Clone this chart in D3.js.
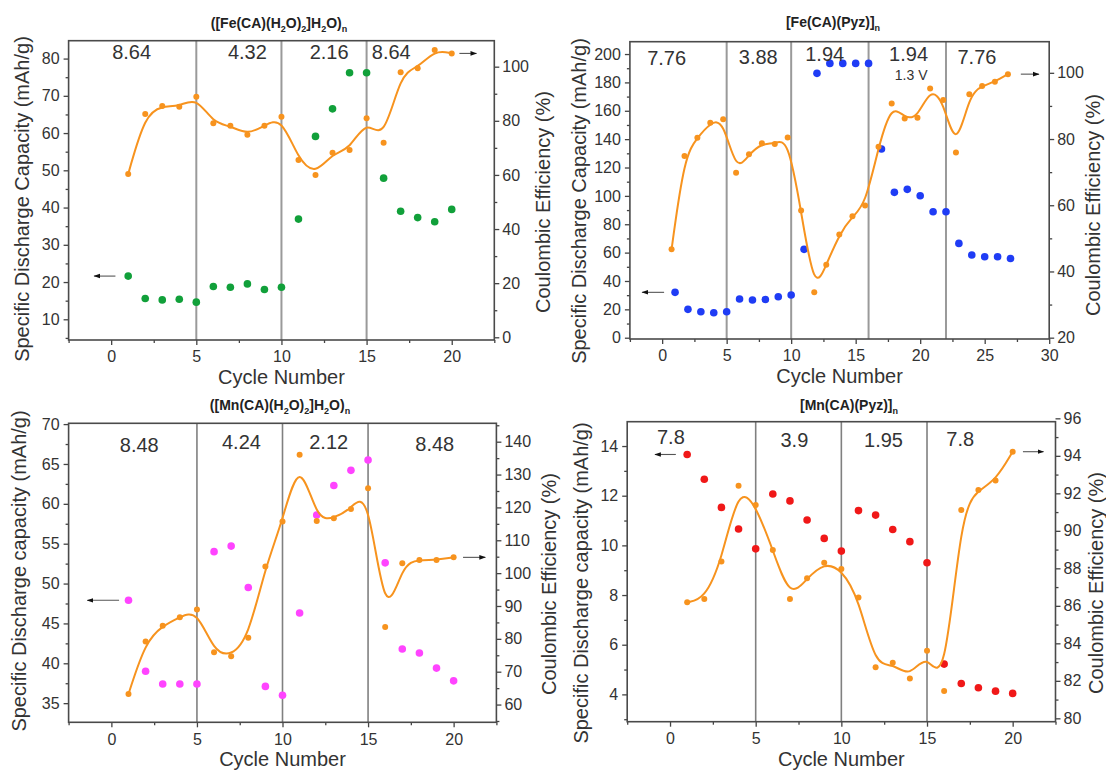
<!DOCTYPE html>
<html>
<head>
<meta charset="utf-8">
<script src="https://cdn.jsdelivr.net/npm/d3@7"></script>
<style>
  body { margin: 0; background: #fff; }
  svg { font-family: "Liberation Sans", Arial, sans-serif; }
</style>
</head>
<body>
<div id="chart"></div>
<script>
// ---------- data ----------
// ([Fe(CA)(H2O)2]H2O)n
var fe1Cycles   = [1,2,3,4,5,6,7,8,9,10,11,12,13,14,15,16,17,18,19,20];
var fe1Capacity = [21.6,15.6,15.2,15.4,14.6,18.8,18.6,19.5,18.0,18.6,36.9,59.1,66.5,76.2,76.2,47.9,39.0,37.3,36.2,39.5];
var fe1CE       = [60.3,82.5,85.5,85.2,88.9,79.1,78.2,74.8,78.2,81.5,65.5,60.0,68.2,69.2,80.9,71.9,97.9,99.4,106.2,104.9];
var fe1Rates    = ["8.64","4.32","2.16","8.64"];
var fe1Steps    = [5,10,15];
var fe1LeftTicks  = [10,20,30,40,50,60,70,80];
var fe1RightTicks = [0,20,40,60,80,100];

// [Fe(CA)(Pyz)]n
var fe2Cycles   = [1,2,3,4,5,6,7,8,9,10,11,12,13,14,15,16,17,18,19,20,21,22,23,24,25,26,27];
var fe2Capacity = [32.0,20.0,18.3,17.6,18.3,27.3,26.6,27.0,28.9,30.1,62.3,186.4,193.4,193.4,193.4,193.4,133.0,102.5,104.6,100.1,88.8,88.8,66.5,58.3,57.1,57.1,55.9];
var fe2CECycles = [0.73,1.73,2.73,3.73,4.73,5.73,6.73,7.73,8.73,9.73,10.77,11.79,12.72,13.73,14.75,15.73,16.77,17.79,18.8,19.79,20.77,21.79,22.77,23.81,24.8,25.79,26.8];
var fe2CE       = [46.7,74.9,80.4,84.9,86.0,69.8,75.4,78.7,78.5,80.5,58.4,33.7,42.0,51.2,56.7,59.9,77.7,90.7,86.2,86.4,95.3,91.8,75.9,93.5,96.0,97.3,99.6];
var fe2Rates    = ["7.76","3.88","1.94","1.94","7.76"];
var fe2Steps    = [5,10,16,22];
var fe2XTicks   = [0,5,10,15,20,25,30];
var fe2LeftTicks  = [0,20,40,60,80,100,120,140,160,180,200];
var fe2RightTicks = [20,40,60,80,100];

// ([Mn(CA)(H2O)2]H2O)n
var mn1Cycles   = [1,2,3,4,5,6,7,8,9,10,11,12,13,14,15,16,17,18,19,20];
var mn1Capacity = [47.9,39.0,37.4,37.4,37.4,54.0,54.7,49.5,37.1,36.0,46.3,58.6,62.3,64.2,65.5,52.6,41.8,41.3,39.4,37.8];
var mn1CE       = [63.2,79.2,84.0,86.6,88.9,75.9,74.7,80.3,102.0,115.7,136.0,115.9,116.7,119.5,125.8,83.6,103.0,104.0,104.0,104.8];
var mn1Rates    = ["8.48","4.24","2.12","8.48"];
var mn1Steps    = [5,10,15];
var mn1LeftTicks  = [35,40,45,50,55,60,65,70];
var mn1RightTicks = [60,70,80,90,100,110,120,130,140];

// [Mn(CA)(Pyz)]n
var mn2Cycles   = [1,2,3,4,5,6,7,8,9,10,11,12,13,14,15,16,17,18,19,20];
var mn2Capacity = [13.66,12.66,11.53,10.66,9.86,12.07,11.79,11.02,10.28,9.77,11.40,11.22,10.64,10.15,9.30,5.22,4.44,4.27,4.13,4.04];
var mn2CE       = [86.19,86.36,88.36,92.41,91.38,88.98,86.36,87.47,88.30,87.96,86.44,82.72,82.97,82.13,83.61,81.46,91.11,92.18,92.68,94.22];
var mn2Rates    = ["7.8","3.9","1.95","7.8"];
var mn2Steps    = [5,10,15];
var mn2LeftTicks  = [4,6,8,10,12,14];
var mn2RightTicks = [80,82,84,86,88,90,92,94,96];

var cycleTicks = [0,5,10,15,20];

var orange = "#f7931e", ink = "#333";

var svg = d3.select("#chart").append("svg")
    .attr("width", 1106)
    .attr("height", 772);

svg.append("defs").append("marker")
    .attr("id", "head")
    .attr("viewBox", "0 0 10 10")
    .attr("refX", 9).attr("refY", 5)
    .attr("markerWidth", 6).attr("markerHeight", 6)
    .attr("orient", "auto")
  .append("path")
    .attr("d", "M0,1.5 L10,5 L0,8.5 z")
    .style("fill", "#111");

// minor ticks half way between the labelled ones
function minors(ticks, dom) {
  var step = ticks[1] - ticks[0], out = [];
  for (var v = ticks[0] - step / 2; v <= d3.max(dom); v += step) {
    if (v >= d3.min(dom)) out.push(v);
  }
  return out;
}

function drawPanel(p) {
  var x  = d3.scaleLinear().domain(p.xDomain).range([p.left, p.right]);
  var yL = d3.scaleLinear().domain(p.leftDomain).range([p.bottom, p.top]);
  var yR = d3.scaleLinear().domain(p.rightDomain).range([p.bottom, p.top]);
  var g = svg.append("g");

  // rate boundaries
  g.selectAll("line.sep").data(p.steps).enter().append("line")
      .attr("class", "sep")
      .attr("x1", function(d){ return x(d); }).attr("x2", function(d){ return x(d); })
      .attr("y1", p.top).attr("y2", p.bottom)
      .style("stroke", p.sepColor)
      .style("stroke-width", p.sepWidth);

  // axes
  function styleAxis(sel) {
    sel.select(".domain").remove();
    sel.selectAll(".tick line").style("stroke", "#444").style("stroke-width", 1.3);
    sel.selectAll(".tick text").style("fill", ink).style("font-size", "16px")
       .style("font-family", "'Liberation Sans', Arial, sans-serif");
  }
  g.append("g").attr("transform", "translate(0," + p.bottom + ")")
      .call(d3.axisBottom(x).tickValues(p.xTicks).tickSize(5).tickPadding(6).tickFormat(d3.format("d")))
      .call(styleAxis);
  g.append("g").attr("transform", "translate(0," + p.bottom + ")")
      .call(d3.axisBottom(x).tickValues(minors(p.xTicks, p.xDomain)).tickSize(3).tickFormat(""))
      .call(styleAxis);
  g.append("g").attr("transform", "translate(" + p.left + ",0)")
      .call(d3.axisLeft(yL).tickValues(p.leftTicks).tickSize(5).tickPadding(4).tickFormat(d3.format("d")))
      .call(styleAxis);
  g.append("g").attr("transform", "translate(" + p.left + ",0)")
      .call(d3.axisLeft(yL).tickValues(minors(p.leftTicks, p.leftDomain)).tickSize(3).tickFormat(""))
      .call(styleAxis);
  g.append("g").attr("transform", "translate(" + p.right + ",0)")
      .call(d3.axisRight(yR).tickValues(p.rightTicks).tickSize(5).tickPadding(3).tickFormat(d3.format("d")))
      .call(styleAxis);
  g.append("g").attr("transform", "translate(" + p.right + ",0)")
      .call(d3.axisRight(yR).tickValues(minors(p.rightTicks, p.rightDomain)).tickSize(3).tickFormat(""))
      .call(styleAxis);

  // frame
  g.append("rect")
      .attr("x", p.left).attr("y", p.top)
      .attr("width", p.right - p.left).attr("height", p.bottom - p.top)
      .style("fill", "none").style("stroke", "#4a4a4a").style("stroke-width", 1.6);

  // capacity points (left axis)
  g.selectAll("circle.cap").data(p.cycles).enter().append("circle")
      .attr("class", "cap")
      .attr("cx", function(d){ return x(d); })
      .attr("cy", function(d, i){ return yL(p.capacity[i]); })
      .attr("r", 3.8)
      .style("fill", p.color);

  // coulombic efficiency, smoothed line + points (right axis)
  var pts = p.ceCycles.map(function(c, i){ return [c, p.ce[i]]; });
  g.append("path")
      .datum(pts)
      .attr("d", d3.line().x(function(d){ return x(d[0]); }).y(function(d){ return yR(d[1]); }).curve(d3.curveBasis))
      .style("fill", "none").style("stroke", orange).style("stroke-width", 2);
  g.selectAll("circle.ce").data(pts).enter().append("circle")
      .attr("class", "ce")
      .attr("cx", function(d){ return x(d[0]); })
      .attr("cy", function(d){ return yR(d[1]); })
      .attr("r", 3)
      .style("fill", orange);

  // arrows telling which axis a series belongs to
  var y0 = yL(p.capacity[0]);
  g.append("line")
      .attr("x1", x(p.leftArrow[1])).attr("x2", x(p.leftArrow[0]))
      .attr("y1", y0).attr("y2", y0)
      .style("stroke", "#555").style("stroke-width", 1.1)
      .attr("marker-end", "url(#head)");
  var y1 = yR(p.ce[p.ce.length - 1]);
  g.append("line")
      .attr("x1", x(p.rightArrow[0])).attr("x2", x(p.rightArrow[1]))
      .attr("y1", y1).attr("y2", y1)
      .style("stroke", "#555").style("stroke-width", 1.1)
      .attr("marker-end", "url(#head)");

  // current density labels
  g.selectAll("text.rate").data(p.rates).enter().append("text")
      .attr("class", "rate")
      .attr("x", function(d, i){ return x(p.rateAt[i]); })
      .attr("y", function(d, i){ return p.rateY[i]; })
      .attr("text-anchor", "middle")
      .style("font-size", "20px").style("fill", ink)
      .text(function(d){ return d; });
  if (p.note) {
    g.append("text")
        .attr("x", x(p.note.at)).attr("y", p.note.y)
        .attr("text-anchor", "middle")
        .style("font-size", "14px").style("fill", ink)
        .text(p.note.text);
  }

  // title with subscripts
  var t = g.append("text")
      .attr("x", p.titleX).attr("y", p.titleY)
      .attr("text-anchor", "middle")
      .style("font-size", "14px").style("font-weight", "bold").style("fill", "#222");
  var shifted = false;
  p.title.forEach(function(part){
    var sub = part[1] === 1;
    var dy = sub && !shifted ? 4 : (!sub && shifted ? -4 : 0);
    shifted = sub;
    t.append("tspan").attr("dy", dy)
        .style("font-size", sub ? "9px" : "14px")
        .text(part[0]);
  });

  // axis titles
  g.append("text")
      .attr("x", (p.left + p.right) / 2).attr("y", p.bottom + 44)
      .attr("text-anchor", "middle")
      .style("font-size", "20px").style("fill", ink)
      .text("Cycle Number");
  g.append("text")
      .attr("transform", "translate(" + p.leftLabel[0] + "," + p.leftLabel[1] + ") rotate(-90)")
      .attr("text-anchor", "middle").attr("dominant-baseline", "central")
      .style("font-size", "20px").style("fill", ink)
      .text(p.leftTitle);
  g.append("text")
      .attr("transform", "translate(" + p.rightLabel[0] + "," + p.rightLabel[1] + ") rotate(-90)")
      .attr("text-anchor", "middle").attr("dominant-baseline", "central")
      .style("font-size", "20px").style("fill", ink)
      .text("Coulombic Efficiency (%)");
}

drawPanel({
  left: 68.6, right: 494.3, top: 40.7, bottom: 340,
  xDomain: [-2.5, 22.5], leftDomain: [4.44, 84.8], rightDomain: [-1, 109.6],
  xTicks: cycleTicks, leftTicks: fe1LeftTicks, rightTicks: fe1RightTicks,
  cycles: fe1Cycles, capacity: fe1Capacity, ceCycles: fe1Cycles, ce: fe1CE,
  color: "#11a03a", steps: fe1Steps, sepColor: "#9a9a9a", sepWidth: 2,
  rates: fe1Rates, rateAt: [1.2, 8.0, 12.8, 16.45], rateY: [59, 59, 59, 59],
  leftArrow: [-1.0, 0.25], rightArrow: [20.45, 21.45],
  title: [["([Fe(CA)(H",0],["2",1],["O)",0],["2",1],["]H",0],["2",1],["O)",0],["n",1]],
  titleX: 279, titleY: 28,
  leftTitle: "Specific Discharge Capacity (mAh/g)", leftLabel: [22, 199], rightLabel: [543, 202]
});

drawPanel({
  left: 629.9, right: 1049.2, top: 41.7, bottom: 339,
  xDomain: [-2.5, 30], leftDomain: [-0.9, 208.7], rightDomain: [19.6, 109.4],
  xTicks: fe2XTicks, leftTicks: fe2LeftTicks, rightTicks: fe2RightTicks,
  cycles: fe2Cycles, capacity: fe2Capacity, ceCycles: fe2CECycles, ce: fe2CE,
  color: "#1f3cf5", steps: fe2Steps, sepColor: "#9a9a9a", sepWidth: 2,
  rates: fe2Rates, rateAt: [0.35, 7.45, 12.6, 19.1, 24.4], rateY: [65, 63.5, 61, 61, 63.5],
  note: { text: "1.3 V", at: 19.3, y: 80 },
  leftArrow: [-1.55, 0.15], rightArrow: [27.8, 29.2],
  title: [["[Fe(CA)(Pyz)]",0],["n",1]],
  titleX: 833, titleY: 27,
  leftTitle: "Specific Discharge Capacity (mAh/g)", leftLabel: [579, 201], rightLabel: [1093, 205]
});

drawPanel({
  left: 68.6, right: 496.4, top: 423.3, bottom: 722.3,
  xDomain: [-2.5, 22.5], leftDomain: [32.6, 70.1], rightDomain: [54.6, 145.6],
  xTicks: cycleTicks, leftTicks: mn1LeftTicks, rightTicks: mn1RightTicks,
  cycles: mn1Cycles, capacity: mn1Capacity, ceCycles: mn1Cycles, ce: mn1CE,
  color: "#ff44ff", steps: mn1Steps, sepColor: "#808080", sepWidth: 1.6,
  rates: mn1Rates, rateAt: [1.63, 7.6, 12.7, 18.9], rateY: [452, 449, 449, 451],
  leftArrow: [-1.4, 0.45], rightArrow: [20.55, 21.85],
  title: [["([Mn(CA)(H",0],["2",1],["O)",0],["2",1],["]H",0],["2",1],["O)",0],["n",1]],
  titleX: 280, titleY: 410,
  leftTitle: "Specific Discharge capacity (mAh/g)", leftLabel: [19, 571], rightLabel: [549, 584]
});

drawPanel({
  left: 627.2, right: 1055.5, top: 421.7, bottom: 721.7,
  xDomain: [-2.5, 22.5], leftDomain: [2.9, 14.98], rightDomain: [79.82, 95.82],
  xTicks: cycleTicks, leftTicks: mn2LeftTicks, rightTicks: mn2RightTicks,
  cycles: mn2Cycles, capacity: mn2Capacity, ceCycles: mn2Cycles, ce: mn2CE,
  color: "#f01818", steps: mn2Steps, sepColor: "#808080", sepWidth: 1.6,
  rates: mn2Rates, rateAt: [0.05, 7.26, 12.46, 16.94], rateY: [444, 447, 447, 446],
  leftArrow: [-0.88, 0.34], rightArrow: [20.6, 21.8],
  title: [["[Mn(CA)(Pyz)]",0],["n",1]],
  titleX: 849, titleY: 410,
  leftTitle: "Specific Discharge capacity (mAh/g)", leftLabel: [581, 583], rightLabel: [1096, 583]
});
</script>
</body>
</html>
